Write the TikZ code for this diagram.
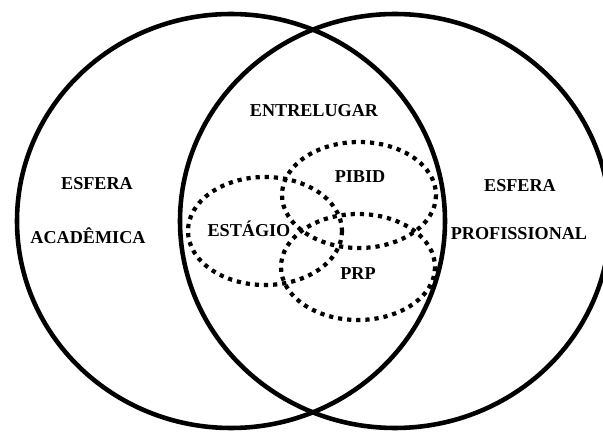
\documentclass[tikz,border=0pt]{standalone}
\usepackage{fontspec}
\setmainfont{Liberation Serif}
\tikzset{
  esfera/.style={line width=3.9pt},
  grupo/.style={line width=3.6pt, dash pattern=on 3.6pt off 4.2pt},
  rotulo/.style={font=\bfseries\fontsize{15.5}{18}\selectfont, anchor=base, inner sep=0pt}
}
\begin{document}
\begin{tikzpicture}[x=0.03cm,y=-0.03cm]
      \useasboundingbox (0,0) rectangle (603,432);
      \clip (0,0) rectangle (603,432);
      % as duas esferas
      \draw[esfera] (231,221) ellipse [x radius=214, y radius=207];
      \draw[esfera] (395,221) ellipse [x radius=215, y radius=207];
      % programas no entrelugar
      \begin{scope}[grupo]
        \draw (265,231) ellipse [x radius=77, y radius=54];
        \draw (359,195) ellipse [x radius=77, y radius=53];
        \draw (358,267) ellipse [x radius=77, y radius=53];
      \end{scope}
      \begin{scope}[rotulo]
        \node (esfAcad) at (97,190) {ESFERA};
        \node (acad) at (88,244) {ACADÊMICA};
        \node (esfProf) at (520,192) {ESFERA};
        \node (prof) at (519,240) {PROFISSIONAL};
        \node (entre) at (314,117) {ENTRELUGAR};
        \node (estagio) at (249,237) {ESTÁGIO};
        \node (pibid) at (360,183) {PIBID};
        \node (prp) at (358,280) {PRP};
      \end{scope}
    \end{tikzpicture}
\end{document}
